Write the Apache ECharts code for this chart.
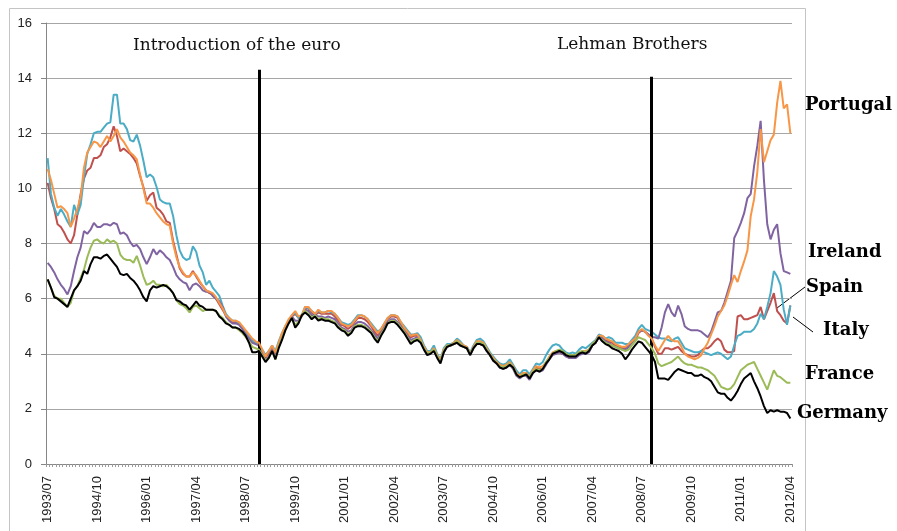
<!DOCTYPE html>
<html>
<head>
<meta charset="utf-8">
<script src="https://cdn.jsdelivr.net/npm/echarts@6/dist/echarts.min.js"></script>
<style>
  html, body { margin: 0; padding: 0; background: #fff; }
  #chart { width: 897px; height: 531px; }
</style>
</head>
<body>
<div id="chart"></div>
<script>
/* 10-year government bond yields, monthly 1993/07 - 2012/04 */

// month categories 1993/07 .. 2012/04
const FIRST_YEAR = 1993, FIRST_MONTH = 7, MONTH_COUNT = 226;
const months = [];
for (let y = FIRST_YEAR, m = FIRST_MONTH; months.length < MONTH_COUNT; ) {
  months.push(y + '/' + String(m).padStart(2, '0'));
  if (++m > 12) { m = 1; y++; }
}

const yTicks = [0, 2, 4, 6, 8, 10, 12, 14, 16];

const italy = [
  11.1, 9.8, 9.3, 9.0, 9.25, 9.05, 8.8, 8.6, 9.4, 9.05, 9.4, 10.4, 11.25, 11.6, 12.0, 12.05, 12.05, 12.2, 12.35, 12.4,
  13.4, 13.4, 12.35, 12.35, 12.15, 11.75, 11.7, 11.95, 11.55, 11.0, 10.4, 10.5, 10.4, 10.05, 9.6, 9.5, 9.45, 9.45,
  9.0, 8.3, 7.75, 7.5, 7.4, 7.45, 7.9, 7.7, 7.2, 6.95, 6.5, 6.65, 6.4, 6.25, 6.1, 5.75, 5.45, 5.3, 5.2, 5.2, 5.1, 4.95,
  4.8, 4.65, 4.5, 4.4, 4.35,
  4.15, 3.95, 4.1, 4.3, 4.1, 4.45, 4.75, 5.0, 5.2, 5.4, 5.5, 5.3, 5.4, 5.7, 5.65, 5.55, 5.45, 5.55, 5.5, 5.5,
  5.55, 5.5, 5.45, 5.3, 5.15, 5.1, 5.05, 5.1, 5.25, 5.4, 5.4, 5.35, 5.25, 5.1, 4.95, 4.8, 4.9, 5.1, 5.3, 5.4,
  5.4, 5.35, 5.15, 5.0, 4.85, 4.7, 4.7, 4.75,
  4.6, 4.3, 4.1, 4.1, 4.3, 4.0, 3.8, 4.2, 4.35, 4.35, 4.4, 4.55, 4.45, 4.3, 4.25, 4.05, 4.3, 4.5, 4.55, 4.45,
  4.25, 4.05, 3.9, 3.75, 3.65, 3.6, 3.65, 3.8, 3.6, 3.4, 3.25, 3.4, 3.4, 3.25, 3.45, 3.65, 3.6, 3.7, 3.95, 4.15,
  4.3, 4.35, 4.3,
  4.15, 4.05, 4.0, 4.05, 4.0, 4.15, 4.25, 4.2, 4.3, 4.4, 4.5, 4.7, 4.65, 4.55, 4.6, 4.55, 4.4, 4.4, 4.4, 4.35,
  4.35, 4.5, 4.65, 4.9, 5.05,
  4.9, 4.85, 4.8, 4.7, 4.6, 4.55, 4.55, 4.5, 4.45, 4.55, 4.6, 4.4, 4.2, 4.15, 4.1, 4.05, 4.05, 4.1, 4.05, 4.0,
  3.95, 4.0, 4.05, 4.0, 3.9, 3.8, 3.9, 4.3, 4.65, 4.7, 4.8, 4.8, 4.8, 4.9, 5.1, 5.45, 5.25, 5.7, 6.2, 7.0,
  6.8, 6.5, 5.6, 5.05, 5.75,
];

const portugal = [
  10.7, 10.3, 9.8, 9.3, 9.35, 9.25, 9.1, 8.6, 8.9, 9.25, 9.7, 10.75, 11.3, 11.5, 11.7, 11.65, 11.5, 11.7, 11.9, 11.7,
  11.9, 12.15, 11.85, 11.7, 11.5, 11.3, 11.2, 11.05, 10.5, 10.0, 9.45, 9.45, 9.3, 9.1, 8.95, 8.8, 8.7, 8.65,
  8.0, 7.5, 7.15, 6.95, 6.8, 6.8, 6.95, 6.85, 6.65, 6.45, 6.3, 6.25, 6.2, 6.05, 5.85, 5.65, 5.4, 5.3, 5.2, 5.2, 5.15, 5.0,
  4.85, 4.7, 4.55, 4.45, 4.4,
  4.15, 3.9, 4.1, 4.3, 4.05, 4.4, 4.75, 5.0, 5.25, 5.4, 5.55, 5.35, 5.4, 5.7, 5.7, 5.55, 5.45, 5.6, 5.5, 5.5,
  5.55, 5.55, 5.45, 5.3, 5.1, 5.05, 5.0, 5.05, 5.2, 5.35, 5.4, 5.35, 5.25, 5.05, 4.9, 4.75, 4.9, 5.1, 5.3, 5.4,
  5.4, 5.35, 5.15, 4.95, 4.8, 4.65, 4.7, 4.7,
  4.5, 4.25, 4.05, 4.05, 4.2, 3.95, 3.75, 4.15, 4.3, 4.3, 4.4, 4.5, 4.4, 4.3, 4.25, 4.0, 4.25, 4.45, 4.45, 4.4,
  4.2, 4.0, 3.85, 3.7, 3.6, 3.55, 3.6, 3.7, 3.55, 3.3, 3.2, 3.3, 3.3, 3.15, 3.4, 3.55, 3.5, 3.55, 3.7, 3.9,
  4.05, 4.1, 4.1,
  4.05, 4.0, 3.9, 3.95, 3.95, 4.05, 4.1, 4.1, 4.15, 4.35, 4.45, 4.65, 4.65, 4.55, 4.5, 4.45, 4.35, 4.3, 4.25, 4.25,
  4.35, 4.45, 4.55, 4.8, 4.9,
  4.8, 4.65, 4.55, 4.3, 4.1, 4.3, 4.5, 4.65, 4.5, 4.45, 4.45, 4.25, 4.0, 3.9, 3.85, 3.8, 3.85, 3.95, 4.2, 4.4,
  4.7, 5.0, 5.35, 5.55, 5.75, 6.1, 6.5, 6.85, 6.6, 7.0, 7.35, 7.75, 9.0, 9.6, 10.6, 12.15, 10.95, 11.35, 11.75, 11.95,
  13.1, 13.9, 12.9, 13.05, 12.0,
];

const spain = [
  10.2, 9.65, 9.25, 8.7, 8.6, 8.4, 8.15, 8.0, 8.3, 9.05, 9.8, 10.35, 10.65, 10.75, 11.1, 11.1, 11.2, 11.5, 11.6, 11.85,
  12.25, 11.9, 11.35, 11.45, 11.35, 11.25, 11.1, 10.9, 10.45, 10.05, 9.55, 9.75, 9.85, 9.3, 9.2, 9.05, 8.8, 8.75,
  8.1, 7.6, 7.1, 6.9, 6.8, 6.8, 7.0, 6.8, 6.6, 6.45, 6.3, 6.2, 6.15, 6.0, 5.8, 5.6, 5.4, 5.25, 5.15, 5.15, 5.1, 4.95,
  4.8, 4.65, 4.5, 4.4, 4.35,
  4.1, 3.85, 4.05, 4.25, 4.0, 4.35, 4.7, 4.95, 5.2, 5.35, 5.45, 5.3, 5.35, 5.65, 5.65, 5.5, 5.4, 5.5, 5.45, 5.45,
  5.45, 5.45, 5.35, 5.2, 5.05, 5.0, 4.9, 5.0, 5.15, 5.3, 5.3, 5.25, 5.15, 5.0, 4.8, 4.65, 4.85, 5.05, 5.25, 5.35,
  5.35, 5.3, 5.1, 4.9, 4.75, 4.6, 4.65, 4.65,
  4.5, 4.25, 4.05, 4.05, 4.2, 3.95, 3.75, 4.1, 4.3, 4.3, 4.35, 4.45, 4.4, 4.3, 4.2, 4.0, 4.25, 4.4, 4.45, 4.35,
  4.15, 4.0, 3.8, 3.7, 3.55, 3.5, 3.55, 3.7, 3.5, 3.3, 3.15, 3.3, 3.3, 3.15, 3.35, 3.5, 3.45, 3.45, 3.65, 3.85,
  4.0, 4.05, 4.05,
  4.0, 3.95, 3.85, 3.9, 3.9, 4.0, 4.05, 4.05, 4.1, 4.3, 4.4, 4.6, 4.6, 4.5, 4.45, 4.4, 4.3, 4.25, 4.2, 4.2,
  4.3, 4.4, 4.5, 4.75, 4.85,
  4.8, 4.7, 4.55, 4.25, 4.0, 4.0, 4.2, 4.2, 4.15, 4.2, 4.25, 4.1, 4.0, 3.95, 3.9, 3.9, 3.95, 4.1, 4.2, 4.2,
  4.3, 4.45, 4.55, 4.45, 4.15, 4.05, 4.05, 4.1, 5.35, 5.4, 5.25, 5.25, 5.3, 5.35, 5.4, 5.7, 5.25, 5.55, 5.85, 6.2,
  5.55, 5.4, 5.2, 5.1, 5.75,
];

const ireland = [
  7.3, 7.15, 6.95, 6.7, 6.5, 6.35, 6.15, 6.45, 7.0, 7.5, 7.85, 8.45, 8.35, 8.5, 8.75, 8.6, 8.6, 8.7, 8.7, 8.65,
  8.75, 8.7, 8.35, 8.4, 8.3, 8.05, 7.9, 7.95, 7.8, 7.5, 7.25, 7.5, 7.8, 7.6, 7.75, 7.65, 7.5, 7.4,
  7.15, 6.85, 6.7, 6.6, 6.55, 6.3, 6.5, 6.55, 6.45, 6.3, 6.25, 6.25, 6.1, 6.0, 5.9, 5.7, 5.35, 5.2, 5.1, 5.1, 5.05, 4.9,
  4.7, 4.55, 4.4, 4.35, 4.3,
  4.0, 3.75, 3.9, 4.15, 3.85, 4.3, 4.6, 4.9, 5.15, 5.35, 5.2, 5.2, 5.4, 5.6, 5.55, 5.4, 5.4, 5.35, 5.35, 5.3,
  5.35, 5.3, 5.25, 5.1, 4.95, 4.9, 4.8, 4.85, 5.05, 5.15, 5.15, 5.1, 5.0, 4.85, 4.7, 4.55, 4.75, 4.95, 5.15, 5.25,
  5.25, 5.15, 5.0, 4.85, 4.65, 4.5, 4.55, 4.6,
  4.45, 4.2, 4.0, 4.05, 4.15, 3.9, 3.7, 4.05, 4.25, 4.3, 4.35, 4.4, 4.3, 4.25, 4.2, 3.95, 4.2, 4.35, 4.35, 4.3,
  4.1, 3.95, 3.75, 3.65, 3.5, 3.45, 3.5, 3.6, 3.45, 3.2, 3.1, 3.2, 3.2, 3.05, 3.3, 3.4, 3.35, 3.4, 3.6, 3.8,
  3.95, 4.0, 4.05,
  4.0, 3.9, 3.85, 3.85, 3.85, 3.95, 4.0, 4.0, 4.05, 4.3, 4.4, 4.65, 4.55, 4.45, 4.4, 4.3, 4.25, 4.2, 4.15, 4.15,
  4.25, 4.4, 4.55, 4.8, 4.85,
  4.8, 4.7, 4.6, 4.6, 4.55, 4.95, 5.5, 5.8, 5.5, 5.35, 5.75, 5.45, 5.0, 4.9, 4.85, 4.85, 4.85, 4.8, 4.7, 4.6,
  4.8, 5.15, 5.5, 5.55, 5.85, 6.25, 6.65, 8.2, 8.45, 8.75, 9.1, 9.65, 9.8, 10.8, 11.55, 12.45, 10.3, 8.7, 8.15, 8.5,
  8.7, 7.65, 7.0, 6.95, 6.9,
];

const france = [
  6.7, 6.4, 6.1, 6.0, 6.0, 5.85, 5.7, 5.85, 6.3, 6.45, 6.75, 7.05, 7.5, 7.85, 8.1, 8.15, 8.05, 8.0, 8.15, 8.05,
  8.1, 8.0, 7.6, 7.45, 7.4, 7.4, 7.3, 7.55, 7.2, 6.8, 6.5, 6.55, 6.65, 6.5, 6.5, 6.45, 6.5, 6.35,
  6.2, 5.95, 5.8, 5.75, 5.65, 5.5, 5.7, 5.75, 5.65, 5.55, 5.6, 5.6, 5.6, 5.55, 5.4, 5.3, 5.15, 5.05, 4.95, 4.95, 4.85, 4.75,
  4.6, 4.45, 4.25, 4.2, 4.15,
  3.95, 3.75, 3.85, 4.1, 3.8, 4.25, 4.55, 4.85, 5.1, 5.3, 5.05, 5.15, 5.4, 5.55, 5.45, 5.3, 5.4, 5.25, 5.3, 5.25,
  5.25, 5.2, 5.15, 5.0, 4.9, 4.85, 4.7, 4.8, 5.0, 5.05, 5.05, 5.0, 4.9, 4.8, 4.6, 4.45, 4.7, 4.9, 5.1, 5.2,
  5.2, 5.1, 4.95, 4.8, 4.6, 4.4, 4.5, 4.55,
  4.45, 4.2, 4.0, 4.05, 4.15, 3.9, 3.7, 4.1, 4.3, 4.3, 4.35, 4.45, 4.35, 4.25, 4.2, 4.0, 4.2, 4.4, 4.4, 4.35,
  4.15, 3.95, 3.8, 3.65, 3.55, 3.5, 3.55, 3.65, 3.5, 3.25, 3.15, 3.25, 3.25, 3.15, 3.35, 3.45, 3.4, 3.45, 3.7, 3.85,
  4.0, 4.1, 4.15,
  4.1, 4.0, 3.95, 3.95, 3.95, 4.05, 4.1, 4.05, 4.15, 4.35, 4.45, 4.6, 4.5, 4.4, 4.35, 4.3, 4.25, 4.2, 4.15, 4.1,
  4.15, 4.3, 4.45, 4.6, 4.55,
  4.5, 4.35, 4.2, 4.0, 3.65, 3.55, 3.6, 3.65, 3.7, 3.8, 3.9, 3.75, 3.65, 3.6, 3.6, 3.55, 3.5, 3.5, 3.45, 3.4,
  3.3, 3.2, 3.0, 2.8, 2.75, 2.7, 2.75, 2.9, 3.15, 3.4, 3.5, 3.6, 3.65, 3.7, 3.45, 3.2, 2.95, 2.7, 3.05, 3.4,
  3.2, 3.15, 3.05, 2.95, 2.95,
];

const germany = [
  6.7, 6.4, 6.05, 6.0, 5.9, 5.8, 5.7, 6.0, 6.3, 6.45, 6.65, 7.0, 6.9, 7.25, 7.5, 7.5, 7.45, 7.55, 7.6, 7.45,
  7.3, 7.15, 6.9, 6.85, 6.9, 6.75, 6.65, 6.5, 6.3, 6.05, 5.9, 6.3, 6.45, 6.4, 6.45, 6.5, 6.45, 6.35,
  6.2, 5.95, 5.9, 5.8, 5.75, 5.6, 5.75, 5.9, 5.75, 5.7, 5.6, 5.6, 5.6, 5.55, 5.35, 5.25, 5.1, 5.05, 4.95, 4.95, 4.9, 4.8,
  4.65, 4.4, 4.05, 4.05, 4.1,
  3.9, 3.7, 3.85, 4.1, 3.8, 4.2, 4.5, 4.85, 5.1, 5.3, 4.95, 5.1, 5.4, 5.5, 5.4, 5.25, 5.35, 5.2, 5.25, 5.2,
  5.2, 5.15, 5.1, 4.95, 4.85, 4.8, 4.65, 4.75, 4.95, 5.0, 5.0, 4.95, 4.85, 4.75, 4.55, 4.4, 4.65, 4.85, 5.1, 5.15,
  5.15, 5.05, 4.9, 4.75, 4.55, 4.35, 4.45, 4.5,
  4.4, 4.15, 3.95, 4.0, 4.1, 3.85, 3.65, 4.05, 4.25, 4.3, 4.35, 4.4, 4.3, 4.25, 4.2, 3.95, 4.2, 4.35, 4.35, 4.3,
  4.1, 3.95, 3.75, 3.65, 3.5, 3.45, 3.5, 3.6, 3.5, 3.25, 3.15, 3.2, 3.25, 3.1, 3.3, 3.4, 3.35, 3.45, 3.65, 3.8,
  4.0, 4.05, 4.1,
  4.05, 3.95, 3.9, 3.9, 3.9, 4.0, 4.05, 4.0, 4.1, 4.3, 4.4, 4.6, 4.45, 4.35, 4.3, 4.2, 4.15, 4.1, 4.0, 3.8,
  3.95, 4.15, 4.3, 4.45, 4.4,
  4.25, 4.1, 3.95, 3.7, 3.1, 3.1, 3.1, 3.05, 3.2, 3.35, 3.45, 3.4, 3.35, 3.3, 3.3, 3.2, 3.2, 3.25, 3.15, 3.1,
  3.0, 2.8, 2.6, 2.55, 2.55, 2.4, 2.3, 2.45, 2.65, 2.9, 3.1, 3.2, 3.3, 3.0, 2.75, 2.45, 2.1, 1.85, 1.95, 1.9,
  1.95, 1.9, 1.9, 1.85, 1.65,
];

// event markers: [category, top of the line in %]
const EURO = ['1998/11', 14.3];
const LEHMAN = ['2008/10', 14.05];

const SERIF = '"DejaVu Serif", "Liberation Serif", serif';

const chart = echarts.init(document.getElementById('chart'), null, { renderer: 'canvas' });

function lineSeries(name, data, color, z) {
  return {
    name, type: 'line', data, z,
    symbol: 'none', smooth: false,
    lineStyle: { color, width: 2 },
    itemStyle: { color },
  };
}

const germanySeries = lineSeries('Germany', germany, '#000000', 8);
germanySeries.markLine = {
  silent: true,
  symbol: 'none',
  label: { show: false },
  lineStyle: { color: '#000', width: 3, type: 'solid' },
  data: [EURO, LEHMAN].map(([m, top]) => {
    const i = months.indexOf(m);
    return [{ coord: [i, 0] }, { coord: [i, top] }];
  }),
};

// right-hand country labels
const labels = [
  { text: 'Portugal', x: 805, y: 105 },
  { text: 'Ireland', x: 808, y: 252 },
  { text: 'Spain', x: 806, y: 287 },
  { text: 'Italy', x: 823, y: 330 },
  { text: 'France', x: 805, y: 374 },
  { text: 'Germany', x: 797, y: 413 },
];

chart.setOption({
  animation: false,
  backgroundColor: '#fff',
  grid: { left: 46, right: 105, top: 23, bottom: 67 },
  xAxis: {
    type: 'category',
    data: months,
    boundaryGap: true,
    axisLine: { lineStyle: { color: '#868686', width: 1 } },
    axisTick: { show: true, interval: 0, length: 3, lineStyle: { color: '#9a9a9a' } },
    axisLabel: {
      interval: 14, rotate: 90, margin: 12,
      color: '#222', fontSize: 13, fontFamily: '"Liberation Sans", Arial, sans-serif',
    },
    splitLine: { show: false },
  },
  yAxis: {
    type: 'value',
    min: yTicks[0], max: yTicks[yTicks.length - 1], interval: 2,
    axisLine: { show: true, lineStyle: { color: '#868686' } },
    axisTick: { show: true, inside: false, length: 5, lineStyle: { color: '#868686' } },
    axisLabel: {
      margin: 14, color: '#222', fontSize: 13,
      fontFamily: '"Liberation Sans", Arial, sans-serif',
    },
    splitLine: { lineStyle: { color: '#a6a6a6', width: 1 } },
  },
  series: [
    lineSeries('Spain', spain, '#C0504D', 2),
    lineSeries('Italy', italy, '#4BACC6', 3),
    lineSeries('Ireland', ireland, '#8064A2', 4),
    lineSeries('Portugal', portugal, '#F79646', 5),
    lineSeries('France', france, '#9BBB59', 6),
    germanySeries,
  ],
  graphic: [
    // outer chart-area border (cut off at the bottom)
    { type: 'rect', z: -1, silent: true,
      shape: { x: 9.5, y: 8.5, width: 796, height: 560 },
      style: { fill: 'none', stroke: '#c4c4c4', lineWidth: 1 } },
    { type: 'text', left: 133, top: 37, silent: true,
      style: { text: 'Introduction of the euro', font: '17px ' + SERIF, fill: '#111' } },
    { type: 'text', left: 557, top: 36, silent: true,
      style: { text: 'Lehman Brothers', font: '17px ' + SERIF, fill: '#111' } },
    ...labels.map((l) => ({
      type: 'text', x: l.x, y: l.y, silent: true,
      style: { text: l.text, font: 'bold 18px ' + SERIF, fill: '#000', textVerticalAlign: 'middle', verticalAlign: 'middle' },
    })),
    // leader lines for Spain and Italy
    { type: 'line', silent: true, shape: { x1: 805, y1: 287, x2: 777, y2: 308 },
      style: { stroke: '#000', lineWidth: 1 } },
    { type: 'line', silent: true, shape: { x1: 793, y1: 317, x2: 813, y2: 332 },
      style: { stroke: '#000', lineWidth: 1 } },
  ],
});

window.addEventListener('resize', () => chart.resize());
</script>
</body>
</html>
